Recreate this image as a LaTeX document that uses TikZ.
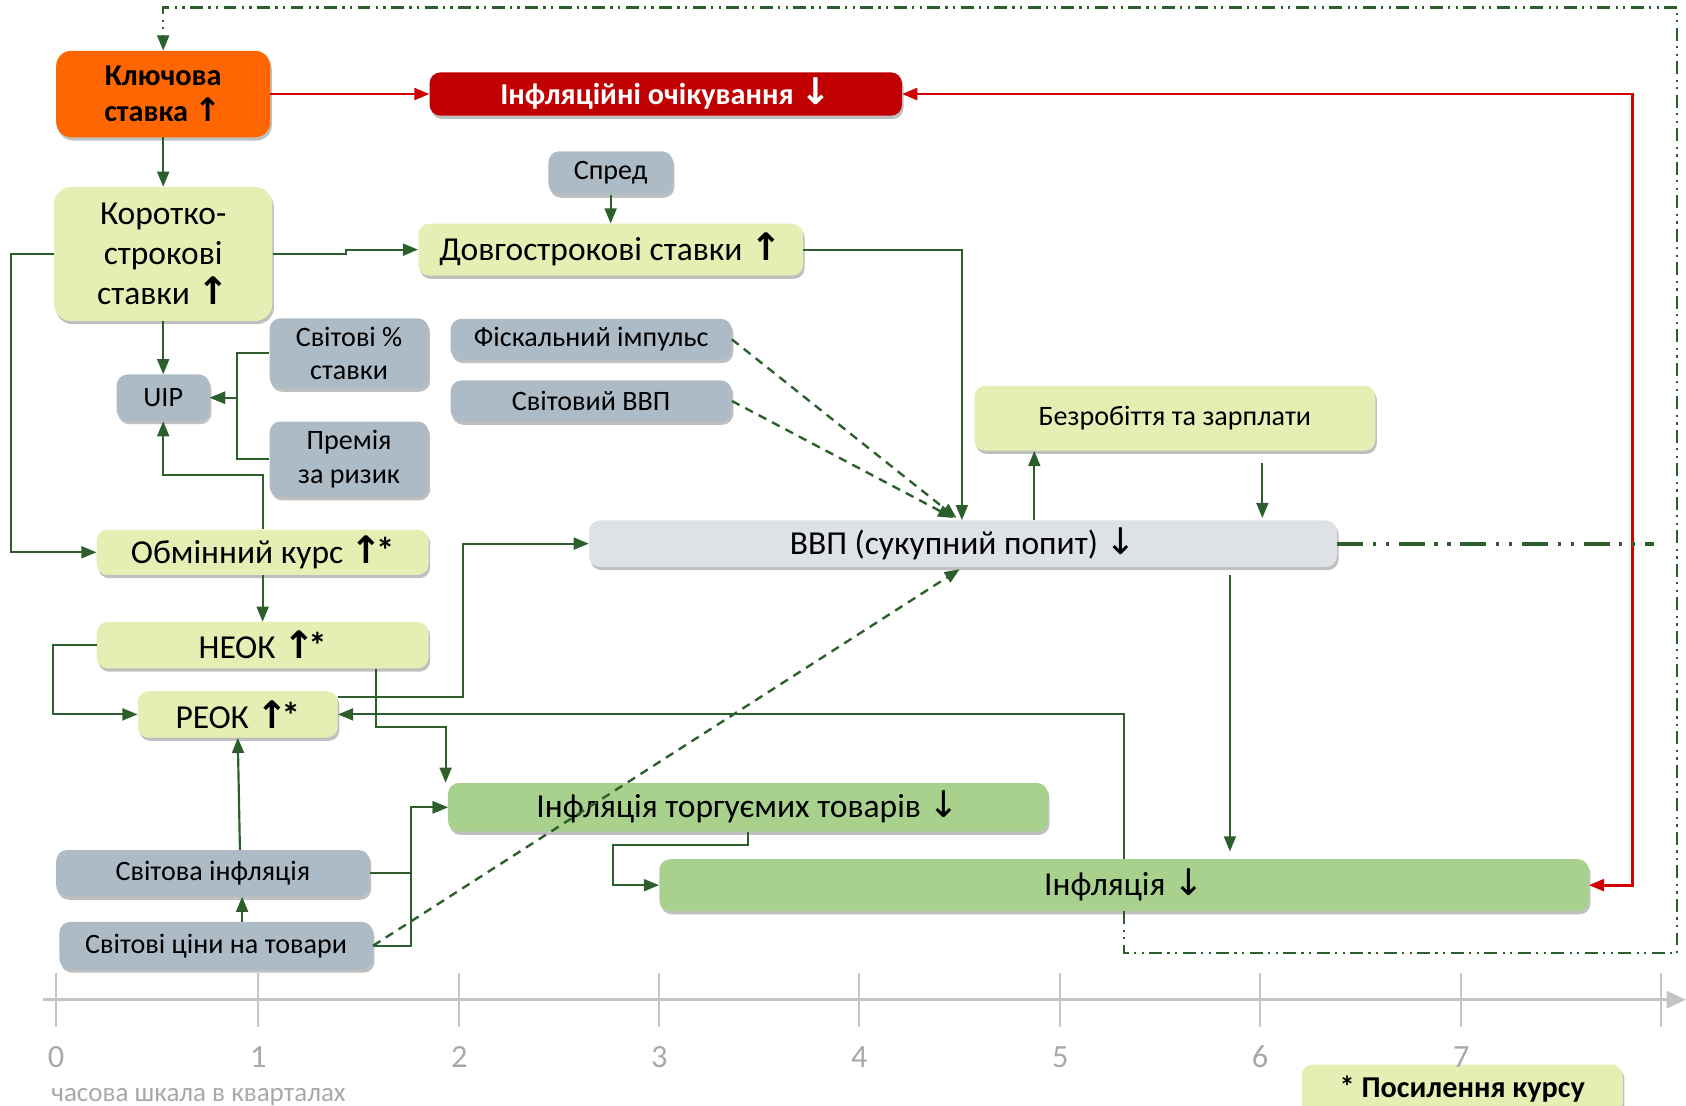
\documentclass[tikz,border=0pt]{standalone}
\usepackage{fontspec}
\setmainfont{Carlito}
\newfontfamily\arrf{DejaVu Sans}
\usetikzlibrary{arrows.meta,shadows,calc}
\definecolor{ygc}{HTML}{E6EFB3}
\definecolor{gbc}{HTML}{ADBBC7}
\definecolor{grc}{HTML}{A9D18E}
\definecolor{vvpc}{HTML}{DEE1E5}
\definecolor{lnc}{HTML}{2D5F2D}
\definecolor{redc}{HTML}{C00000}
\definecolor{redl}{HTML}{D00000}
\definecolor{orc}{HTML}{FF6600}
\definecolor{axc}{HTML}{C4C4C4}
\definecolor{labc}{HTML}{A8A8A8}
\newcommand{\UPb}{{\arrf\bfseries\fontsize{35}{37}\selectfont ↑}}
\newcommand{\UPt}{{\arrf\fontsize{30}{33}\selectfont ↑}}
\newcommand{\DNt}{{\arrf\fontsize{34}{37}\selectfont ↓}}
\newcommand{\AST}{\kern-6pt{\bfseries\fontsize{34}{37}\selectfont *}}
\tikzset{
  box/.style={rounded corners=10pt, inner sep=0pt, align=center,
    drop shadow={shadow xshift=1.5pt, shadow yshift=-3pt, opacity=0.25, fill=black}},
  yg/.style={box, fill=ygc},
  gb/.style={box, fill=gbc},
  gr/.style={box, fill=grc},
  big/.style={font=\fontsize{31}{37}\selectfont},
  sml/.style={font=\fontsize{26}{31}\selectfont},
  bld/.style={font=\fontsize{28}{33}\selectfont\bfseries},
  ln/.style={draw=lnc, line width=2pt, -{Triangle[length=14pt,width=11pt]}},
  dln/.style={draw=lnc, line width=2.2pt, dash pattern=on 8pt off 6pt, -{Triangle[length=14pt,width=11pt]}},
  redln/.style={draw=redl, line width=2.5pt},
  loopln/.style={draw=lnc, line width=2pt, dash pattern=on 12pt off 5pt on 2pt off 5pt on 2pt off 5pt},
  thickdd/.style={draw=lnc, line width=3.5pt, dash pattern=on 24pt off 9pt on 3pt off 9pt on 3pt off 9pt},
  axis/.style={draw=axc, line width=2.5pt},
  tick/.style={draw=axc, line width=2pt},
  axlab/.style={text=labc, font=\fontsize{30}{36}\selectfont}
}
\begin{document}
\begin{tikzpicture}[x=1pt,y=-1pt]
\useasboundingbox (0,0) rectangle (1560,1023);
\clip (0,0) rectangle (1560,1023);

% nodes
\node[box, rounded corners=14pt, fill=orc, minimum width=198, minimum height=80, bld] (kl) at (151,87) {Ключова\\ставка \UPt};
\node[box, fill=redc, text=white, minimum width=437, minimum height=40, bld] (infexp) at (616,87) {Інфляційні очікування \DNt};
\node[yg, rounded corners=16pt, minimum width=202, minimum height=124, big] (kor) at (151,235) {Коротко-\\строкові\\ставки \UPb};
\node[gb, minimum width=115, minimum height=40, sml] (spred) at (565,160) {Спред};
\node[yg, minimum width=356, minimum height=48, big] (dov) at (565,231) {Довгострокові ставки \UPb};
\node[gb, minimum width=86, minimum height=43, sml] (uip) at (151,368) {UIP};
\node[gb, minimum width=147, minimum height=65, sml] (svst) at (323,327) {Світові \%\\ставки};
\node[gb, minimum width=147, minimum height=70, sml] (prem) at (323,425) {Премія\\за ризик};
\node[gb, minimum width=260, minimum height=38, sml] (fisk) at (547,314) {Фіскальний імпульс};
\node[gb, minimum width=260, minimum height=38, sml] (svvvp) at (547,371) {Світовий ВВП};
\node[yg, minimum width=307, minimum height=42, big] (obm) at (243,511) {Обмінний курс \UPb\AST};
\node[yg, minimum width=307, minimum height=43, big] (neok) at (243,597) {НЕОК \UPb\AST};
\node[yg, minimum width=185, minimum height=43, big] (reok) at (220,661) {РЕОК \UPb\AST};
\node[box, fill=vvpc, minimum width=692, minimum height=43, big] (vvp) at (891,503) {ВВП (сукупний попит) \DNt};
\node[yg, minimum width=371, minimum height=60, sml] (bez) at (1087,387) {Безробіття та зарплати};
\node[gb, minimum width=290, minimum height=43, sml] (svinf) at (197,808) {Світова інфляція};
\node[gb, minimum width=290, minimum height=44, sml] (svcin) at (200,875) {Світові ціни на товари};
\node[gr, minimum width=555, minimum height=45, big] (inft) at (692,747) {Інфляція торгуємих товарів \DNt};
\node[gr, minimum width=860, minimum height=48, big] (inf) at (1040,819) {Інфляція \DNt};
\node[yg, minimum width=297, minimum height=46, bld] (pos) at (1353,1008) {* Посилення курсу};

% free end of the output-gap line
\coordinate (vvpend) at (1530,503);

% red connectors
\draw[redln, -{Triangle[length=14pt,width=11pt]}] (kl.east) -- (infexp.west);
\draw[redln, {Triangle[length=14pt,width=11pt]}-{Triangle[length=14pt,width=11pt]}] (inf.east) -- ++(40,0) |- (infexp.east);

% green connectors
\draw[ln] (kl.south) -- (kor.north);
\draw[ln] (spred.south) -- (dov.north);
\draw[ln] (kor.east) -- ++(68,0) |- (dov.west);
\draw[ln] (dov.east) -| ([xshift=-1]vvp.north);
\draw[ln] (kor.west) -- ++(-40,0) |- (obm.west);
\draw[ln] (kor.south) -- (uip.north);
\draw[ln] (svst.west) -- ++(-30,0) |- (uip.east);
\draw[ln] (prem.west) -- ++(-30,0) |- (uip.east);
\draw[ln] (obm.north) -- ++(0,-50) -| (uip.south);
\draw[ln] (obm.south) -- (neok.north);
\draw[ln] (neok.west) -- ++(-40,0) |- (reok.west);
\draw[ln] ($(neok.south east)+(-49,0)$) -- ++(0,54) -| ($(inft.north west)+(-2,0)$);
\draw[ln] ($(reok.east)+(0,-16)$) -- ++(116,0) |- (vvp.west);
\draw[ln] (inf.north) |- (reok.east);
\draw[ln] ($(svinf.north)+(25,0)$) -- (reok.south);
\draw[ln] ($(svcin.north)+(24,0)$) -- ($(svinf.south)+(27,0)$);
\draw[ln] (svinf.east) -- ++(38,0) |- (inft.west);
\draw[ln] (svcin.east) -- ++(35,0) |- (inft.west);
\draw[ln] (inft.south) -- ++(0,12) -- ++(-125,0) |- (inf.west);
\draw[ln] ($(vvp.north)+(66,0)$) -- ($(bez.south)+(-130,0)$);
\draw[ln] ($(bez.south)+(81,11)$) -- ($(vvp.north)+(277,-2)$);
\draw[ln] ($(vvp.south)+(247,7)$) -- ($(inf.north)+(98,-7)$);

% dashed influences
\draw[dln] (fisk.east) -- ($(vvp.north)+(-6,-2)$);
\draw[dln] (svvvp.east) -- ($(vvp.north)+(-9,-2)$);
\draw[dln] (svcin.east) -- ($(vvp.south)+(-3,2)$);

% dash-dot lines
\draw[thickdd] (vvp.east) -- (vvpend);
\draw[loopln, -{Triangle[length=14pt,width=11pt]}] (inf.south) -- (1040,882) -- (1552,882) -- (1552,7) -- (151,7) -- (kl.north);

% time axis
\draw[axis, -{Triangle[length=18pt,width=16pt]}] (40,925) -- (1560,925);
\foreach \i/\xx in {0/52,1/239,2/425,3/610,4/795,5/981,6/1166,7/1352} {
  \draw[tick] (\xx,900) -- (\xx,950);
  \node[axlab] at (\xx,978) {\i};
}
\draw[tick] (1537,900) -- (1537,950);
\node[text=labc, font=\fontsize{25}{30}\selectfont, anchor=west] (scale) at (44,1015) {часова шкала в кварталах};
\end{tikzpicture}
\end{document}
